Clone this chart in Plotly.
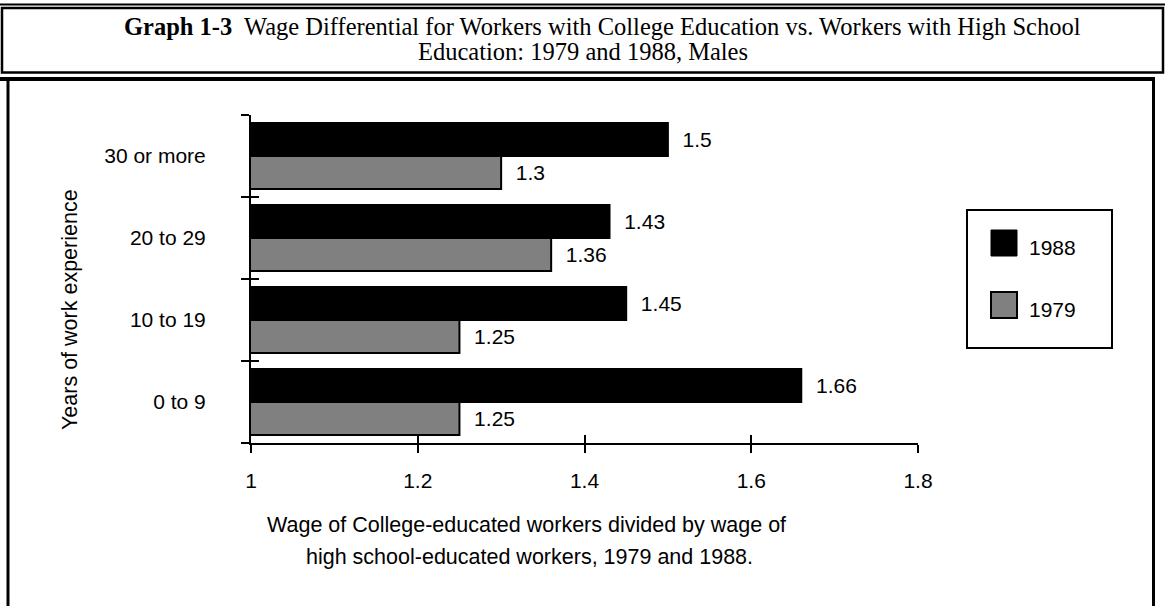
import plotly.graph_objects as go

# Data
categories = ["0 to 9", "10 to 19", "20 to 29", "30 or more"]
series_names = ["1988", "1979"]
ratio_1988 = [1.66, 1.45, 1.43, 1.5]
ratio_1979 = [1.25, 1.25, 1.36, 1.3]
x_ticks = [1, 1.2, 1.4, 1.6, 1.8]

W, H = 1165, 606
PL, PR, PT, PB = 251, 918, 115, 443   # plot area in pixels


def px(x):
    return (x - PL) / (PR - PL)


def py(y):
    return (PB - y) / (PB - PT)


SANS = "Liberation Sans, Arial, sans-serif"
SERIF = "Liberation Serif, Times New Roman, serif"
FS = 21
NBSP = "\u00a0"

fig = go.Figure()

# 1979 first so that 1988 sits above it within each group
fig.add_trace(go.Bar(
    name=series_names[1], y=categories, x=ratio_1979, orientation="h",
    marker=dict(color="#808080", line=dict(color="black", width=2)),
    texttemplate=NBSP * 2 + "%{x}", textposition="outside",
    textfont=dict(family=SANS, size=FS, color="black"),
    cliponaxis=False, showlegend=False,
))
fig.add_trace(go.Bar(
    name=series_names[0], y=categories, x=ratio_1988, orientation="h",
    marker=dict(color="black", line=dict(color="black", width=2)),
    texttemplate=NBSP * 2 + "%{x}", textposition="outside",
    textfont=dict(family=SANS, size=FS, color="black"),
    cliponaxis=False, showlegend=False,
))

# invisible companion trace carrying the inner half of the crossing ticks
fig.add_trace(go.Scatter(
    x=ratio_1988, y=categories, xaxis="x2", yaxis="y2", mode="markers",
    marker=dict(opacity=0), hoverinfo="skip", showlegend=False,
))

axis_font = dict(family=SANS, size=FS, color="black")

fig.update_layout(
    width=W, height=H,
    margin=dict(l=PL, r=W - PR, t=PT, b=H - PB, pad=0),
    paper_bgcolor="white", plot_bgcolor="white",
    barmode="group", bargap=0.195, bargroupgap=0.0,
    font=axis_font,
    xaxis=dict(
        range=[1, 1.8], tickvals=x_ticks, ticktext=[str(v) for v in x_ticks],
        showgrid=False, zeroline=False,
        showline=True, linecolor="black", linewidth=2,
        ticks="outside", ticklen=8, tickwidth=2, tickcolor="black",
        ticklabelstandoff=10, tickfont=axis_font,
    ),
    yaxis=dict(
        type="category", categoryorder="array", categoryarray=categories,
        range=[-0.5, 3.5], tickson="boundaries",
        showgrid=False, zeroline=False,
        showline=True, linecolor="black", linewidth=2,
        ticks="outside", ticklen=8, tickwidth=2, tickcolor="black",
        ticklabelstandoff=39, tickfont=axis_font,
    ),
    xaxis2=dict(
        overlaying="x", anchor="y2", range=[1, 1.8], tickvals=x_ticks,
        showgrid=False, zeroline=False, showline=False, showticklabels=False,
        ticks="inside", ticklen=8, tickwidth=2, tickcolor="black",
    ),
    yaxis2=dict(
        overlaying="y", anchor="x2", type="category", categoryorder="array",
        categoryarray=categories, range=[-0.5, 3.5], tickson="boundaries",
        showgrid=False, zeroline=False, showline=False, showticklabels=False,
        ticks="inside", ticklen=8, tickwidth=2, tickcolor="black",
    ),
)

shapes = []
# title frame
shapes.append(dict(type="line", xref="paper", yref="paper",
                   x0=px(0), x1=px(1165), y0=py(4.5), y1=py(4.5),
                   line=dict(color="black", width=2)))
shapes.append(dict(type="rect", xref="paper", yref="paper",
                   x0=px(2), x1=px(1163), y0=py(8), y1=py(72.5),
                   line=dict(color="black", width=2.5)))
# chart frame
shapes.append(dict(type="line", xref="paper", yref="paper",
                   x0=px(0), x1=px(1155), y0=py(79), y1=py(79),
                   line=dict(color="black", width=4)))
shapes.append(dict(type="line", xref="paper", yref="paper",
                   x0=px(8), x1=px(8), y0=py(79), y1=py(607),
                   line=dict(color="black", width=3)))
shapes.append(dict(type="line", xref="paper", yref="paper",
                   x0=px(1153.5), x1=px(1153.5), y0=py(79), y1=py(607),
                   line=dict(color="black", width=3)))
# legend box and swatches
shapes.append(dict(type="rect", xref="paper", yref="paper",
                   x0=px(967), x1=px(1112), y0=py(210), y1=py(348),
                   line=dict(color="black", width=2), fillcolor="white"))
shapes.append(dict(type="rect", xref="paper", yref="paper",
                   x0=px(991), x1=px(1017), y0=py(230), y1=py(256),
                   line=dict(color="black", width=1), fillcolor="black"))
shapes.append(dict(type="rect", xref="paper", yref="paper",
                   x0=px(991), x1=px(1017), y0=py(292), y1=py(318),
                   line=dict(color="black", width=2), fillcolor="#808080"))
fig.update_layout(shapes=shapes)

title_font = dict(family=SERIF, size=24.5, color="black")
label_font = dict(family=SANS, size=21.5, color="black")
annotations = [
    dict(text="<b>Graph 1-3</b>  Wage Differential for Workers with College Education vs. Workers with High School",
         x=px(602), y=py(26), xanchor="center", yanchor="middle", font=title_font),
    dict(text="Education: 1979 and 1988, Males",
         x=px(583), y=py(52), xanchor="center", yanchor="middle", font=title_font),
    dict(text="Years of work experience", textangle=-90,
         x=px(70), y=py(310), xanchor="center", yanchor="middle",
         font=label_font),
    dict(text="Wage of College-educated workers divided by wage of",
         x=px(526), y=py(525), xanchor="center", yanchor="middle",
         font=label_font),
    dict(text="high school-educated workers, 1979 and 1988.",
         x=px(529), y=py(557), xanchor="center", yanchor="middle",
         font=label_font),
    dict(text=series_names[0], x=px(1027), y=py(247), xanchor="left",
         yanchor="middle", font=axis_font),
    dict(text=series_names[1], x=px(1027), y=py(309), xanchor="left",
         yanchor="middle", font=axis_font),
]
for a in annotations:
    a.update(xref="paper", yref="paper", showarrow=False)
fig.update_layout(annotations=annotations)

fig.write_html("out.html")
